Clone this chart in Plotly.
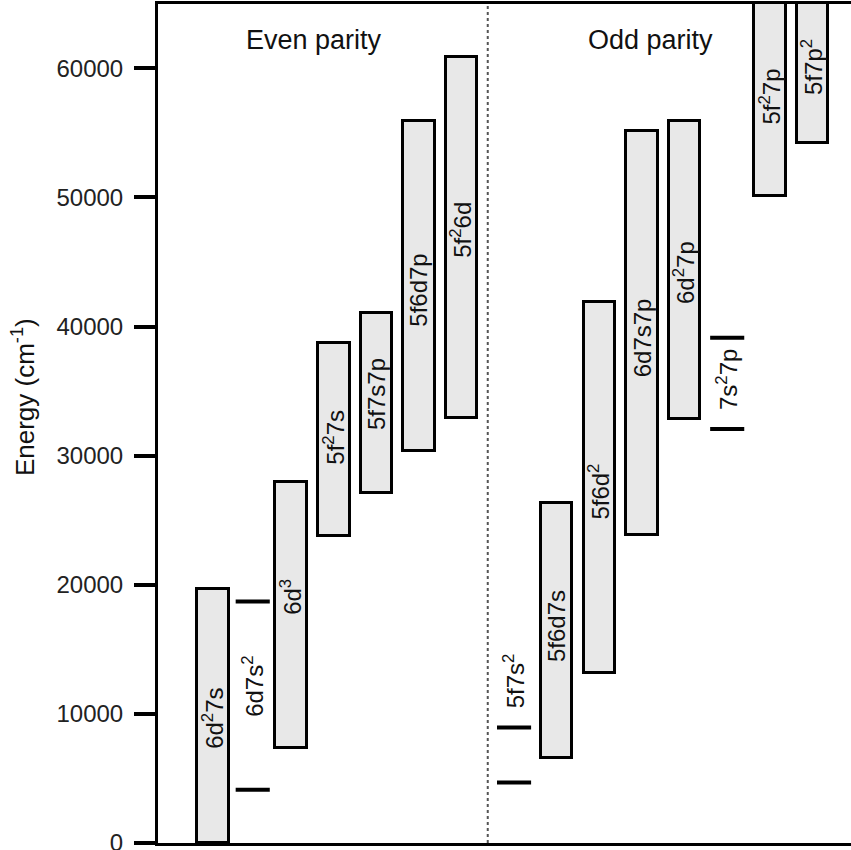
import plotly.graph_objects as go

# ---- data (energies in cm^-1) ----
# configurations drawn as boxes: lower and upper edge of the band
band_labels = ["6d<sup>2</sup>7s", "6d<sup>3</sup>", "5f<sup>2</sup>7s", "5f7s7p", "5f6d7p", "5f<sup>2</sup>6d",
               "5f6d7s", "5f6d<sup>2</sup>", "6d7s7p", "6d<sup>2</sup>7p", "5f<sup>2</sup>7p", "5f7p<sup>2</sup>"]
band_slot = [0.17, 2, 3, 4, 5, 6, 8.23, 9.23, 10.23, 11.23, 13.23, 14.23]
band_low = [0, 7350, 23790, 27140, 30370, 32900, 6580, 13160, 23870, 32850, 50140, 54190]
band_high = [19700, 27990, 38730, 41080, 55920, 60850, 26320, 41930, 55170, 55940, 68000, 68000]
band_label_y = [9620, 19070, 31450, 34800, 42850, 47460, 16780, 27240, 39160, 44190, 57800, 60140]

# configurations drawn as two single levels
level_labels = ["6d7s<sup>2</sup>", "5f7s<sup>2</sup>", "7s<sup>2</sup>7p"]
level_slot = [1.1, 7.23, 12.23]
level_low = [4130, 4690, 32070]
level_high = [18700, 8950, 39140]
level_label_y = [12150, 12530, 35870]

parity_labels = ["Even parity", "Odd parity"]
parity_slot = [2.53, 10.44]
parity_y = [62200, 62200]
divider_slot = 6.613

y_ticks = [0, 10000, 20000, 30000, 40000, 50000, 60000]
y_tick_text = ["0", "10000", "20000", "30000", "40000", "50000", "60000"]

FONT = "Liberation Sans, Arial, Helvetica, sans-serif"

fig = go.Figure()

fig.add_trace(go.Bar(
    x=band_slot,
    y=[h - l for h, l in zip(band_high, band_low)],
    base=band_low,
    width=0.74,
    marker=dict(color="#e8e8e8", line=dict(color="black", width=3)),
    hoverinfo="skip",
    showlegend=False,
))

lx, ly = [], []
for s, lo, hi in zip(level_slot, level_low, level_high):
    for v in (lo, hi):
        lx += [s - 0.4, s + 0.4, None]
        ly += [v, v, None]
fig.add_trace(go.Scatter(
    x=lx, y=ly, mode="lines",
    line=dict(color="black", width=4),
    hoverinfo="skip", showlegend=False,
))

annotations = []
for t, s, yv in zip(band_labels + level_labels,
                    band_slot + level_slot,
                    band_label_y + level_label_y):
    annotations.append(dict(
        x=s, y=yv, xref="x", yref="y", text=t, textangle=-90,
        showarrow=False, xanchor="center", yanchor="middle",
        font=dict(family=FONT, size=24, color="#111"),
    ))
for t, s, yv in zip(parity_labels, parity_slot, parity_y):
    annotations.append(dict(
        x=s, y=yv, xref="x", yref="y", text=t,
        showarrow=False, xanchor="center", yanchor="middle",
        font=dict(family=FONT, size=27, color="#111"),
    ))
annotations.append(dict(
    x=-0.194, y=0.531, xref="paper", yref="paper",
    text="Energy (cm<sup>-1</sup>)", textangle=-90,
    showarrow=False, xanchor="center", yanchor="middle",
    font=dict(family=FONT, size=26, color="#111"),
))

fig.update_layout(
    width=851, height=850,
    margin=dict(l=158, r=0, t=4, b=7),
    paper_bgcolor="white", plot_bgcolor="white",
    annotations=annotations,
    shapes=[dict(type="line", xref="x", yref="paper",
                 x0=divider_slot, x1=divider_slot, y0=0, y1=1,
                 line=dict(color="#555", width=2, dash="dot"))],
    bargap=0,
)
fig.update_xaxes(
    range=[-1.122, 15.134], showgrid=False, zeroline=False,
    showline=True, linecolor="black", linewidth=3, mirror=True,
    showticklabels=False, ticks="", automargin=False,
)
fig.update_yaxes(
    range=[0, 64980], showgrid=False, zeroline=False,
    showline=True, linecolor="black", linewidth=3,
    tickvals=y_ticks, ticktext=y_tick_text,
    ticks="outside", ticklen=21, tickwidth=3.5, tickcolor="black",
    ticklabelstandoff=6, ticklabeloverflow="allow", automargin=False,
    tickfont=dict(family=FONT, size=24, color="#222"),
)

fig.write_html("out.html")
